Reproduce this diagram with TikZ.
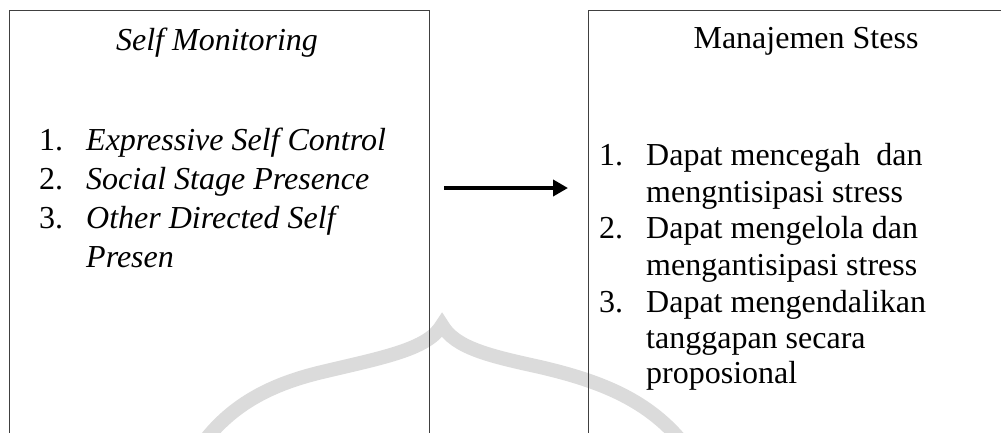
\documentclass[tikz,border=0pt]{standalone}
\usepackage{fontspec}
\setmainfont{Liberation Serif}
\usetikzlibrary{arrows.meta}
\begin{document}
\begin{tikzpicture}[x=1pt,y=-1pt,
  txt/.style={anchor=base west, inner sep=0pt, font=\fontsize{32}{37}\selectfont},
  ttl/.style={anchor=base, inner sep=0pt, font=\fontsize{32}{37}\selectfont},
  frame/.style={draw=black!75, line width=1.3pt, anchor=north west, inner sep=0pt,
    minimum width=420pt, minimum height=440pt},
  conn/.style={line width=4pt, -{Triangle[length=15pt,width=16pt]}},
  dome/.style={draw=gray!28, line width=14pt, line join=miter, miter limit=10}
]
\useasboundingbox (0,0) rectangle (1001,432);
\clip (0,0) rectangle (1001,432);
\fill[white] (0,0) rectangle (1001,432);
% watermark
\draw[dome] (200,447) .. controls (230,405) and (270,385) .. (318,373)
  .. controls (380,358) and (428,350) .. (442,325)
  .. controls (455,348) and (490,356) .. (540,367)
  .. controls (600,381) and (650,400) .. (686,447);
% boxes
\node[frame] (lbox) at (9,10) {};
\node[frame] (rbox) at (588,10) {};
% left box text
\node[ttl] (lt) at (217,50) {\textit{Self Monitoring}};
\node[txt] (ln1) at (39,150) {1.};
\node[txt] (li1) at (86,150) {\textit{Expressive Self Control}};
\node[txt] (ln2) at (39,189) {2.};
\node[txt] (li2) at (86,189) {\textit{Social Stage Presence}};
\node[txt] (ln3) at (39,228) {3.};
\node[txt] (li3) at (86,228) {\textit{Other Directed Self}};
\node[txt] (li3b) at (86,267) {\textit{Presen}};
% right box text
\node[ttl] (rt) at (806,48) {Manajemen Stess};
\node[txt] (rn1) at (599,165) {1.};
\node[txt] (ri1) at (646,165) {Dapat mencegah\ \ dan};
\node[txt] (ri1b) at (646,202) {mengntisipasi stress};
\node[txt] (rn2) at (599,238) {2.};
\node[txt] (ri2) at (646,238) {Dapat mengelola dan};
\node[txt] (ri2b) at (646,275) {mengantisipasi stress};
\node[txt] (rn3) at (599,312) {3.};
\node[txt] (ri3) at (646,312) {Dapat mengendalikan};
\node[txt] (ri3b) at (646,348) {tanggapan secara};
\node[txt] (ri3c) at (646,383) {proposional};
% arrow
\coordinate (as) at ([xshift=14pt]lbox.north east |- 0,188);
\coordinate (ae) at ([xshift=-20pt]rbox.north west |- 0,188);
\draw[conn] (as) -- (ae);
\end{tikzpicture}
\end{document}
